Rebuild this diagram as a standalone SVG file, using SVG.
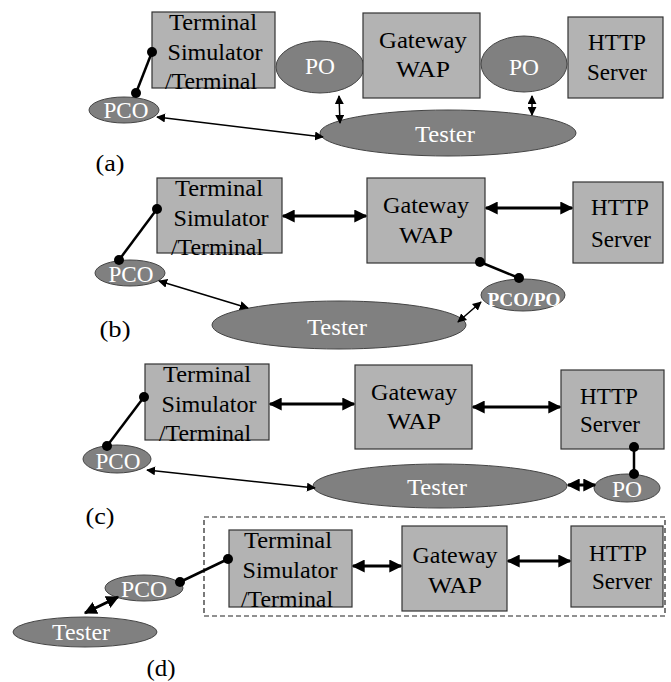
<svg xmlns="http://www.w3.org/2000/svg" width="671" height="682" viewBox="0 0 671 682" font-family="Liberation Serif, Times New Roman, serif">
<style>
.box{fill:#b3b3b3;stroke:#333;stroke-width:1.2}
.ell{fill:#808080;stroke:#444;stroke-width:1}
.bt{font-size:24px;fill:#000;text-anchor:middle}
.et{font-size:23px;fill:#fff;text-anchor:middle}
.lbl{font-size:23px;fill:#000;text-anchor:middle}
.thick{stroke:#000;stroke-width:3;fill:none;marker-start:url(#big);marker-end:url(#big)}
.thin{stroke:#000;stroke-width:1.5;fill:none;marker-start:url(#sm);marker-end:url(#sm)}
.conn{stroke:#000;stroke-width:2.5}
.dot{fill:#000}
</style>
<defs>
<marker id="big" viewBox="0 0 10 10" refX="9" refY="5" markerWidth="13" markerHeight="13" markerUnits="userSpaceOnUse" orient="auto-start-reverse"><path d="M0,0 L10,5 L0,10 z" fill="#000"/></marker>
<marker id="sm" viewBox="0 0 10 10" refX="9" refY="5" markerWidth="9" markerHeight="9" markerUnits="userSpaceOnUse" orient="auto-start-reverse"><path d="M0,0 L10,5 L0,10 z" fill="#000"/></marker>
</defs>

<!-- Panel (a) -->
<g id="a-terminal"><rect class="box" x="152" y="12" width="123" height="76"/><text class="bt" x="213" y="30" textLength="88" lengthAdjust="spacingAndGlyphs">Terminal</text><text class="bt" x="215" y="60" textLength="95" lengthAdjust="spacingAndGlyphs">Simulator</text><text class="bt" x="211" y="89" textLength="92" lengthAdjust="spacingAndGlyphs">/Terminal</text></g>
<g id="a-po1"><ellipse class="ell" cx="320" cy="67" rx="44" ry="26"/><text class="et" x="320" y="74" textLength="30" lengthAdjust="spacingAndGlyphs">PO</text></g>
<g id="a-gateway"><rect class="box" x="363" y="13" width="117" height="85"/><text class="bt" x="423" y="48" textLength="88" lengthAdjust="spacingAndGlyphs">Gateway</text><text class="bt" x="423" y="77" textLength="54" lengthAdjust="spacingAndGlyphs">WAP</text></g>
<g id="a-po2"><ellipse class="ell" cx="524" cy="64" rx="43" ry="28"/><text class="et" x="524" y="75" textLength="30" lengthAdjust="spacingAndGlyphs">PO</text></g>
<g id="a-http"><rect class="box" x="568" y="17" width="95" height="81"/><text class="bt" x="617" y="50" textLength="58" lengthAdjust="spacingAndGlyphs">HTTP</text><text class="bt" x="617" y="80" textLength="60" lengthAdjust="spacingAndGlyphs">Server</text></g>
<g id="a-tester"><ellipse class="ell" cx="448" cy="133" rx="128" ry="23"/><text class="et" x="445" y="142" textLength="60" lengthAdjust="spacingAndGlyphs">Tester</text></g>
<g id="a-pco"><ellipse class="ell" cx="124" cy="110" rx="35" ry="13"/><text class="et" x="126" y="118" textLength="45" lengthAdjust="spacingAndGlyphs">PCO</text></g>
<text class="lbl" x="110" y="171" textLength="29" lengthAdjust="spacingAndGlyphs">(a)</text>

<!-- Panel (b) -->
<g id="b-terminal"><rect class="box" x="157" y="178" width="125" height="75"/><text class="bt" x="219" y="196" textLength="88" lengthAdjust="spacingAndGlyphs">Terminal</text><text class="bt" x="221" y="226" textLength="95" lengthAdjust="spacingAndGlyphs">Simulator</text><text class="bt" x="217" y="255" textLength="92" lengthAdjust="spacingAndGlyphs">/Terminal</text></g>
<g id="b-gateway"><rect class="box" x="367" y="178" width="118" height="85"/><text class="bt" x="426" y="213" textLength="86" lengthAdjust="spacingAndGlyphs">Gateway</text><text class="bt" x="426" y="243" textLength="54" lengthAdjust="spacingAndGlyphs">WAP</text></g>
<g id="b-http"><rect class="box" x="573" y="182" width="90" height="81"/><text class="bt" x="620" y="215" textLength="58" lengthAdjust="spacingAndGlyphs">HTTP</text><text class="bt" x="621" y="247" textLength="60" lengthAdjust="spacingAndGlyphs">Server</text></g>
<g id="b-pcopo"><ellipse class="ell" cx="523" cy="295" rx="42" ry="16"/><text class="et" x="524" y="306" style="font-size:19px;font-weight:bold" textLength="73" lengthAdjust="spacingAndGlyphs">PCO/PO</text></g>
<g id="b-tester"><ellipse class="ell" cx="339" cy="325" rx="127" ry="24"/><text class="et" x="337" y="335" textLength="60" lengthAdjust="spacingAndGlyphs">Tester</text></g>
<g id="b-pco"><ellipse class="ell" cx="130" cy="273" rx="35" ry="13"/><text class="et" x="131" y="282" textLength="45" lengthAdjust="spacingAndGlyphs">PCO</text></g>
<text class="lbl" x="115" y="337" textLength="31" lengthAdjust="spacingAndGlyphs">(b)</text>

<!-- Panel (c) -->
<g id="c-terminal"><rect class="box" x="145" y="364" width="124" height="76"/><text class="bt" x="207" y="382" textLength="88" lengthAdjust="spacingAndGlyphs">Terminal</text><text class="bt" x="209" y="412" textLength="95" lengthAdjust="spacingAndGlyphs">Simulator</text><text class="bt" x="205" y="441" textLength="92" lengthAdjust="spacingAndGlyphs">/Terminal</text></g>
<g id="c-gateway"><rect class="box" x="355" y="365" width="117" height="84"/><text class="bt" x="414" y="400" textLength="86" lengthAdjust="spacingAndGlyphs">Gateway</text><text class="bt" x="414" y="429" textLength="54" lengthAdjust="spacingAndGlyphs">WAP</text></g>
<g id="c-http"><rect class="box" x="561" y="370" width="103" height="79"/><text class="bt" x="609" y="404" textLength="58" lengthAdjust="spacingAndGlyphs">HTTP</text><text class="bt" x="610" y="432" textLength="60" lengthAdjust="spacingAndGlyphs">Server</text></g>
<g id="c-tester"><ellipse class="ell" cx="440" cy="486" rx="127" ry="22"/><text class="et" x="437" y="495" textLength="60" lengthAdjust="spacingAndGlyphs">Tester</text></g>
<g id="c-po"><ellipse class="ell" cx="627" cy="488" rx="33" ry="14"/><text class="et" x="627" y="497" textLength="30" lengthAdjust="spacingAndGlyphs">PO</text></g>
<g id="c-pco"><ellipse class="ell" cx="117" cy="459" rx="34" ry="14"/><text class="et" x="118" y="469" textLength="45" lengthAdjust="spacingAndGlyphs">PCO</text></g>
<text class="lbl" x="100" y="524" textLength="29" lengthAdjust="spacingAndGlyphs">(c)</text>

<!-- Panel (d) -->
<rect x="204" y="517" width="461" height="99" fill="none" stroke="#222" stroke-width="1.2" stroke-dasharray="5,3"/>
<g id="d-terminal"><rect class="box" x="229" y="530" width="123" height="77"/><text class="bt" x="288" y="548" textLength="88" lengthAdjust="spacingAndGlyphs">Terminal</text><text class="bt" x="290" y="578" textLength="95" lengthAdjust="spacingAndGlyphs">Simulator</text><text class="bt" x="287" y="607" textLength="92" lengthAdjust="spacingAndGlyphs">/Terminal</text></g>
<g id="d-gateway"><rect class="box" x="402" y="526" width="105" height="85"/><text class="bt" x="455" y="563" textLength="85" lengthAdjust="spacingAndGlyphs">Gateway</text><text class="bt" x="455" y="593" textLength="54" lengthAdjust="spacingAndGlyphs">WAP</text></g>
<g id="d-http"><rect class="box" x="571" y="526" width="92" height="81"/><text class="bt" x="618" y="561" textLength="58" lengthAdjust="spacingAndGlyphs">HTTP</text><text class="bt" x="622" y="589" textLength="60" lengthAdjust="spacingAndGlyphs">Server</text></g>
<g id="d-pco"><ellipse class="ell" cx="144" cy="588" rx="39" ry="13"/><text class="et" x="144" y="597" textLength="46" lengthAdjust="spacingAndGlyphs">PCO</text></g>
<g id="d-tester"><ellipse class="ell" cx="85" cy="632" rx="72" ry="15"/><text class="et" x="81" y="640" textLength="58" lengthAdjust="spacingAndGlyphs">Tester</text></g>
<text class="lbl" x="161" y="676" textLength="29" lengthAdjust="spacingAndGlyphs">(d)</text>

<g id="connectors">
<!-- (a) -->
<line class="conn" x1="136" y1="93" x2="152" y2="52"/><circle class="dot" cx="136" cy="93" r="5"/><circle class="dot" cx="152" cy="52" r="5"/>
<line class="thin" x1="157" y1="117" x2="323" y2="137"/>
<line class="thin" x1="339" y1="96" x2="340" y2="123"/>
<line class="thin" x1="532" y1="96" x2="532" y2="115"/>
<!-- (b) -->
<line class="conn" x1="119" y1="260" x2="157" y2="209"/><circle class="dot" cx="119" cy="260" r="5"/><circle class="dot" cx="157" cy="209" r="5"/>
<line class="conn" x1="480" y1="262" x2="519" y2="278"/><circle class="dot" cx="480" cy="262" r="5"/><circle class="dot" cx="519" cy="278" r="5"/>
<line class="thick" x1="283" y1="216" x2="366" y2="216"/>
<line class="thick" x1="486" y1="208" x2="572" y2="208"/>
<line class="thin" x1="159" y1="281" x2="248" y2="308"/>
<line class="thin" x1="458" y1="322" x2="481" y2="302"/>
<!-- (c) -->
<line class="conn" x1="107" y1="446" x2="144" y2="397"/><circle class="dot" cx="107" cy="446" r="5"/><circle class="dot" cx="144" cy="397" r="5"/>
<line class="conn" x1="634" y1="447" x2="634" y2="474"/><circle class="dot" cx="634" cy="447" r="5"/><circle class="dot" cx="634" cy="474" r="5"/>
<line class="thick" x1="270" y1="404" x2="354" y2="404"/>
<line class="thick" x1="473" y1="407" x2="560" y2="407"/>
<line class="thick" x1="568" y1="485" x2="595" y2="485"/>
<line class="thin" x1="147" y1="470" x2="315" y2="488"/>
<!-- (d) -->
<line class="conn" x1="180" y1="582" x2="228" y2="559"/><circle class="dot" cx="180" cy="582" r="5"/><circle class="dot" cx="228" cy="559" r="5"/>
<line class="thick" x1="353" y1="566" x2="401" y2="566"/>
<line class="thick" x1="508" y1="561" x2="570" y2="561"/>
<line class="thick" x1="85" y1="613" x2="118" y2="597"/>
</g>
</svg>
